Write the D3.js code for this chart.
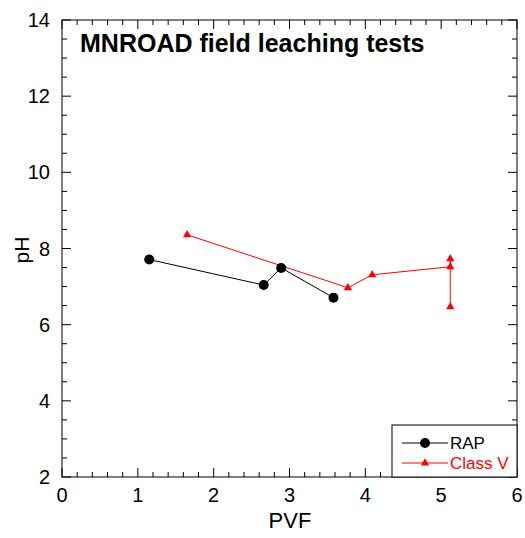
<!DOCTYPE html>
<html><head><meta charset="utf-8">
<script src="https://cdn.jsdelivr.net/npm/d3@7"></script>
<style>body{margin:0;background:#fff}svg{display:block}text{font-family:Arial,"Liberation Sans",sans-serif}</style>
</head><body>
<svg id="c" width="525" height="538"></svg>
<script>
const rapPVF = [1.15, 2.66, 2.89, 3.58];
const rapPH = [7.71, 7.04, 7.49, 6.71];
const classPVF = [1.65, 3.77, 4.09, 5.12, 5.12, 5.12];
const classPH = [8.36, 6.97, 7.31, 7.52, 7.73, 6.47];
const xTicks = [0,1,2,3,4,5,6];
const yTicks = [2,4,6,8,10,12,14];
const seriesNames = ["RAP", "Class V"];
const title = "MNROAD field leaching tests";

const svg = d3.select("#c");
const L=62,R=517,T=20,B=477;
const x = d3.scaleLinear().domain([0,6]).range([L,R]);
const y = d3.scaleLinear().domain([2,14]).range([B,T]);

const g = svg.append("g");
g.append("rect").attr("x",L).attr("y",T).attr("width",R-L).attr("height",B-T)
 .attr("fill","none").attr("stroke","#000").attr("stroke-width",1);

const xMinor = d3.range(0,6.0001,0.2).map(v=>+v.toFixed(2));
const yMinor = d3.range(2,14.0001,0.5);
function isMajor(v, arr){return arr.some(a=>Math.abs(a-v)<1e-6);}
xMinor.forEach(v=>{
  const len = isMajor(v,xTicks)?9:5;
  g.append("line").attr("x1",x(v)).attr("x2",x(v)).attr("y1",B).attr("y2",B-len).attr("stroke","#000");
  g.append("line").attr("x1",x(v)).attr("x2",x(v)).attr("y1",T).attr("y2",T+len).attr("stroke","#000");
});
yMinor.forEach(v=>{
  const len = isMajor(v,yTicks)?9:5;
  g.append("line").attr("x1",L).attr("x2",L+len).attr("y1",y(v)).attr("y2",y(v)).attr("stroke","#000");
  g.append("line").attr("x1",R).attr("x2",R-len).attr("y1",y(v)).attr("y2",y(v)).attr("stroke","#000");
});
xTicks.forEach(v=>{
  g.append("text").attr("x",x(v)).attr("y",B+25).attr("text-anchor","middle")
   .attr("font-size",20).text(v);
});
yTicks.forEach(v=>{
  g.append("text").attr("x",L-12).attr("y",y(v)+7).attr("text-anchor","end")
   .attr("font-size",20).text(v);
});
g.append("text").attr("x",290).attr("y",528).attr("text-anchor","middle").attr("font-size",22).text("PVF");
g.append("text").attr("transform",`translate(29,250) rotate(-90)`).attr("text-anchor","middle").attr("font-size",21).text("pH");
g.append("text").attr("x",80).attr("y",52).attr("font-size",25).attr("font-weight","bold").text(title);

const line = d3.line().x(d=>x(d[0])).y(d=>y(d[1]));
const rap = rapPVF.map((v,i)=>[v,rapPH[i]]);
const cls = classPVF.map((v,i)=>[v,classPH[i]]);
const red = "#ff0000";
g.append("path").attr("d",line(rap)).attr("fill","none").attr("stroke","#000").attr("stroke-width",1);
g.append("path").attr("d",line(cls)).attr("fill","none").attr("stroke",red).attr("stroke-width",1);
const tri = d3.symbol().type(d3.symbolTriangle).size(30);
g.selectAll(".rp").data(rap).enter().append("circle").attr("cx",d=>x(d[0])).attr("cy",d=>y(d[1])).attr("r",5).attr("fill","#000");
g.selectAll(".cp").data(cls).enter().append("path").attr("d",tri).attr("transform",d=>`translate(${x(d[0])},${y(d[1])})`).attr("fill",red);

g.append("rect").attr("x",392).attr("y",425).attr("width",R-392).attr("height",B-425).attr("fill","#fff").attr("stroke","#000");
g.append("line").attr("x1",402).attr("x2",448).attr("y1",443).attr("y2",443).attr("stroke","#000");
g.append("circle").attr("cx",425).attr("cy",443).attr("r",5).attr("fill","#000");
g.append("text").attr("x",450).attr("y",449).attr("font-size",17).text(seriesNames[0]);
g.append("line").attr("x1",402).attr("x2",448).attr("y1",463).attr("y2",463).attr("stroke",red);
g.append("path").attr("d",tri).attr("transform","translate(425,463)").attr("fill",red);
g.append("text").attr("x",450).attr("y",469).attr("font-size",17).attr("fill",red).text(seriesNames[1]);
</script>
</body></html>
